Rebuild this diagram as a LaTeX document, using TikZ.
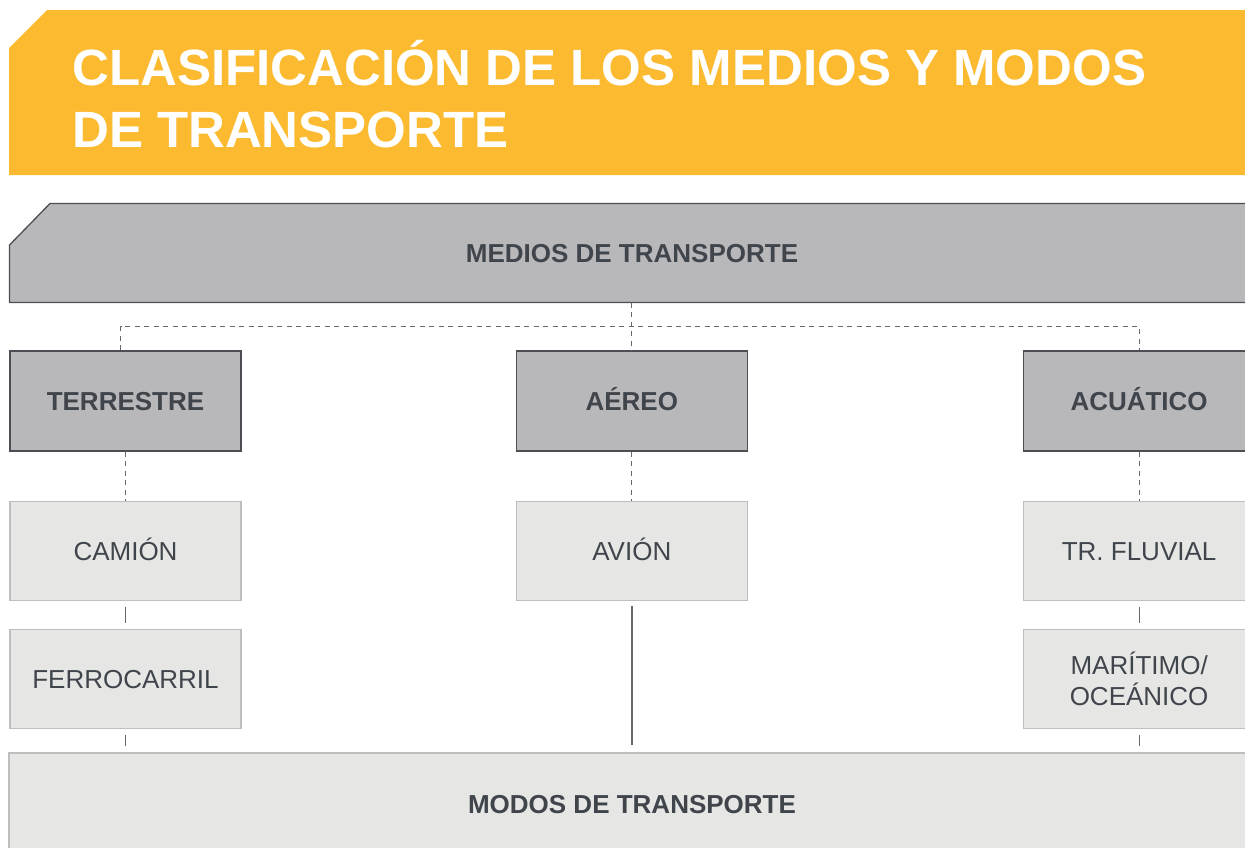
\documentclass[tikz,border=0pt]{standalone}
\usepackage{fontspec}
\setmainfont{Liberation Sans}
\usetikzlibrary{positioning,calc}
\definecolor{sun}{HTML}{FBBA30}
\definecolor{slate}{HTML}{40454C}
\definecolor{midgray}{HTML}{B8B8BA}
\definecolor{edgegray}{HTML}{4B4E53}
\definecolor{pale}{HTML}{E6E7E5}
\definecolor{paleedge}{HTML}{BDBEBE}
\definecolor{linegray}{HTML}{66686C}

\begin{document}
\begin{tikzpicture}[x=1pt,y=-1pt,catbox/.style={draw=edgegray,fill=midgray,line width=1.3pt,minimum width=231pt,minimum height=100pt,text height=19pt,text depth=0pt,font=\fontsize{26}{31}\selectfont\bfseries,text=slate},itembox/.style={draw=paleedge,fill=pale,line width=1.2pt,minimum width=231pt,minimum height=99pt,text height=19pt,text depth=0pt,align=center,font=\fontsize{26}{31}\selectfont,text=slate},dashwire/.style={draw=linegray,line width=1.2pt,dash pattern=on 5pt off 4.5pt},link/.style={draw=linegray,line width=1.2pt,shorten <=6pt,shorten >=6pt}]
\useasboundingbox (0,0) rectangle (1245,847);
% title banner
\fill[sun] (9,48) -- (47,10) -- (1250,10) -- (1250,175) -- (9,175) -- cycle;
\node[anchor=west,inner sep=0pt,align=left,text=white,font=\fontsize{51}{62}\selectfont\bfseries] (title) at (72,94) {CLASIFICACIÓN DE LOS MEDIOS Y MODOS\\DE TRANSPORTE};
% medios
\filldraw[fill=midgray,draw=edgegray,line width=1.3pt] (9.5,245) -- (50,203.5) -- (1250,203.5) -- (1250,302.5) -- (9.5,302.5) -- cycle;
\node[minimum width=1246pt,minimum height=99pt,text height=19pt,text depth=0pt,text=slate,font=\fontsize{26}{31}\selectfont\bfseries] (medios) at (632,253) {MEDIOS DE TRANSPORTE};
\node[catbox] (terr) at (125.5,401) {TERRESTRE};
\node[catbox,right=274pt of terr] (aereo) {AÉREO};
\node[catbox,right=275pt of aereo] (acuat) {ACUÁTICO};
\node[itembox,below=49pt of terr] (camion) {CAMIÓN};
\node[itembox,below=28pt of camion] (ferro) {FERROCARRIL};
\node[itembox,below=49pt of aereo] (avion) {AVIÓN};
\node[itembox,below=49pt of acuat] (fluvial) {TR. FLUVIAL};
\node[itembox,text height={},text depth={},below=28pt of fluvial] (maritimo) {MARÍTIMO/\\OCEÁNICO};
\node[itembox,minimum width=1246pt,minimum height=102pt,font=\fontsize{26}{31}\selectfont\bfseries] (modos) at (632,804) {MODOS DE TRANSPORTE};
% connectors
\coordinate (fork) at ($(medios.south)!0.5!(aereo.north)$);
\draw[dashwire] (aereo.north |- medios.south) -- (aereo.north);
\draw[dashwire] ([xshift=-5pt]terr.north) |- (fork) -| (acuat.north);
\draw[dashwire] (terr) -- (camion);
\draw[dashwire] (aereo) -- (avion);
\draw[dashwire] (acuat) -- (fluvial);
\draw[link] (camion) -- (ferro);
\draw[link] (ferro.south) -- (ferro.south |- modos.north);
\draw[link,line width=1.6pt,shorten <=5pt,shorten >=7pt] (avion.south) -- (avion.south |- modos.north);
\draw[link] (fluvial) -- (maritimo);
\draw[link] (maritimo.south) -- (maritimo.south |- modos.north);
\end{tikzpicture}
\end{document}
